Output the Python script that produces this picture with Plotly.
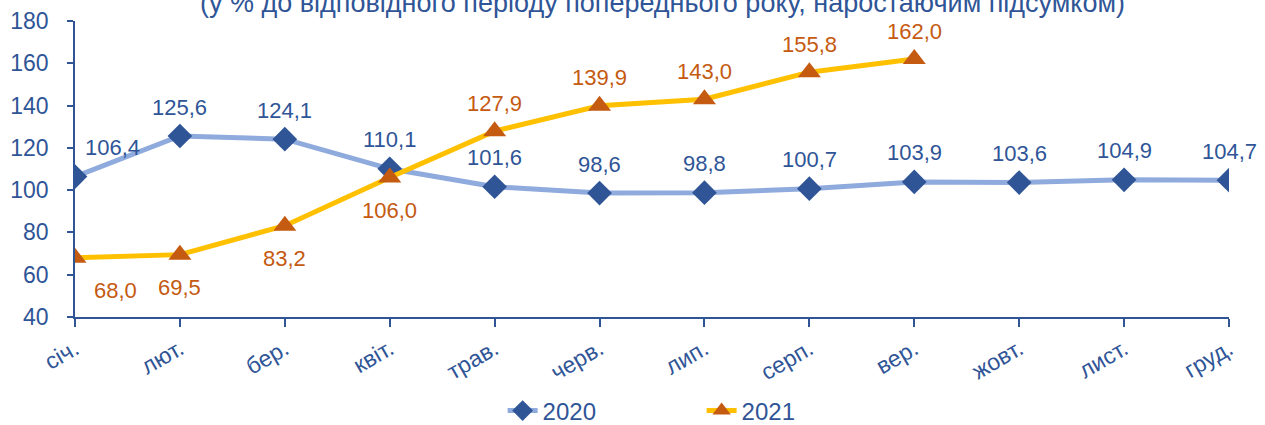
import plotly.graph_objects as go

months = ["січ.", "лют.", "бер.", "квіт.", "трав.", "черв.", "лип.", "серп.", "вер.", "жовт.", "лист.", "груд."]
values_2020 = [106.4, 125.6, 124.1, 110.1, 101.6, 98.6, 98.8, 100.7, 103.9, 103.6, 104.9, 104.7]
values_2021 = [68.0, 69.5, 83.2, 106.0, 127.9, 139.9, 143.0, 155.8, 162.0]
pos_2021 = ["below", "below", "below", "below", "above", "above", "above", "above", "above"]
title_text = "(у % до відповідного періоду попереднього року, наростаючим підсумком)"

FONT = "Liberation Sans"
BLUE = "#2F5597"
LBLUE = "#8FAADC"
YEL = "#FFC000"
ORG = "#C55A11"

def fmt(v):
    return f"{v:.1f}".replace(".", ",")

x_idx = list(range(len(months)))

fig = go.Figure()
fig.add_trace(go.Scatter(
    x=x_idx, y=values_2020, name="2020", mode="lines+markers",
    line=dict(color=LBLUE, width=5),
    marker=dict(symbol="diamond", size=19, color=BLUE),
))
fig.add_trace(go.Scatter(
    x=x_idx[:len(values_2021)], y=values_2021, name="2021", mode="lines+markers",
    line=dict(color=YEL, width=5),
    marker=dict(symbol="triangle-up", size=20, color=ORG),
))

for i, v in enumerate(values_2020):
    fig.add_annotation(x=i, y=v, text=fmt(v), showarrow=False, yshift=29,
                       xshift=37 if i == 0 else 0,
                       font=dict(family=FONT, size=22, color=BLUE))
for i, v in enumerate(values_2021):
    up = pos_2021[i] == "above"
    fig.add_annotation(x=i, y=v, text=fmt(v), showarrow=False,
                       yshift=28 if up else -33,
                       xshift=40 if i == 0 else 0,
                       font=dict(family=FONT, size=22, color=ORG))

fig.add_annotation(x=0.509, y=1.062, xref="paper", yref="paper", text=title_text,
                   showarrow=False, xanchor="center", yanchor="middle",
                   font=dict(family=FONT, size=27, color=BLUE))

fig.update_xaxes(
    range=[0, 11], tickmode="array", tickvals=x_idx, ticktext=months,
    tickangle=-30, ticks="outside", ticklen=8, tickcolor=BLUE, tickwidth=1.5,
    showline=True, linecolor=BLUE, linewidth=1.5, showgrid=False, zeroline=False,
    tickfont=dict(family=FONT, size=23, color=BLUE), automargin=False,
    ticklabelstandoff=0,
)
fig.update_yaxes(
    range=[40, 180], tickmode="array", tickvals=[40, 60, 80, 100, 120, 140, 160, 180],
    ticks="outside", ticklen=6, tickcolor=BLUE, tickwidth=1.5,
    showline=True, linecolor=BLUE, linewidth=1.5, showgrid=False, zeroline=False,
    tickfont=dict(family=FONT, size=23, color=BLUE), automargin=False,
    ticklabelstandoff=14,
)

fig.update_layout(
    width=1265, height=425,
    margin=dict(l=75, r=36, t=21, b=108, autoexpand=False),
    plot_bgcolor="white", paper_bgcolor="white",
    showlegend=True,
    legend=dict(orientation="h", x=0.543, xanchor="center",
                yref="container", y=0.033, yanchor="middle",
                font=dict(family=FONT, size=24, color=BLUE), entrywidth=154),
)

fig.write_html("out.html", post_script="document.body.style.margin='0';",
               config={"displayModeBar": False})
